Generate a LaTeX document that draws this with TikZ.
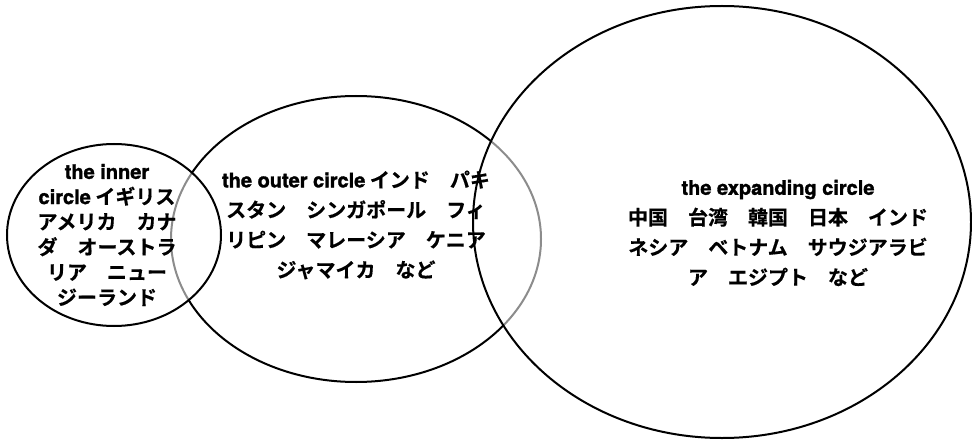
\documentclass[tikz,border=0pt]{standalone}
\usepackage{fontspec}
\setmainfont{TeX Gyre Heros}[BoldFeatures={FakeBold=1.6}]
\newfontfamily\jp{Noto Sans CJK JP}[BoldFont={Noto Sans CJK JP Bold},BoldFeatures={FakeBold=0.4}]
\newcommand\latn[1]{{\rmfamily\bfseries #1}}
\begin{document}
\begin{tikzpicture}[x=1pt,y=-1pt,
  ring/.style={draw=black,line width=2pt},
  veil/.style={fill=white,fill opacity=0.55},
  label/.style={align=center,font=\fontsize{20}{25.2}\selectfont\bfseries\jp,inner sep=0pt},
  wide/.style={label,font=\fontsize{20}{30}\selectfont\bfseries\jp}]
\useasboundingbox (0,0) rectangle (972,441);
\fill[white] (0,0) rectangle (972,441);
% outer circle (drawn first, veiled where the others overlap it)
\draw[ring] (356,239) ellipse [x radius=185,y radius=143];
\fill[veil] (114,235) ellipse [x radius=107,y radius=91];
\fill[veil] (722,222) ellipse [x radius=249,y radius=216];
\draw[ring] (114,235) ellipse [x radius=107,y radius=91];
\draw[ring] (722,222) ellipse [x radius=249,y radius=216];
% texts
\node[label] (inner) at (107,235) {\latn{the inner}\\\latn{circle} イギリス\\アメリカ　カナ\\ダ　オーストラ\\リア　ニュー\\ジーランド};
\node[wide] (outer) at (356,225) {\latn{the outer circle} インド　パキ\\スタン　シンガポール　フィ\\リピン　マレーシア　ケニア\\ジャマイカ　など};
\node[wide] (expanding) at (778,233) {\latn{the expanding circle}\\中国　台湾　韓国　日本　インド\\ネシア　ベトナム　サウジアラビ\\ア　エジプト　など};
\end{tikzpicture}
\end{document}
